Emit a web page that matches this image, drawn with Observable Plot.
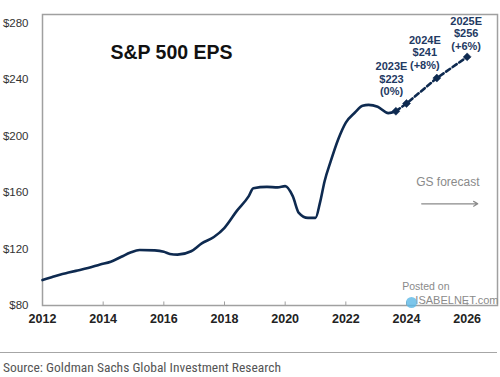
<!DOCTYPE html>
<html>
<head>
<meta charset="utf-8">
<script src="https://cdn.jsdelivr.net/npm/d3@7"></script>
<script src="https://cdn.jsdelivr.net/npm/@observablehq/plot@0.6"></script>
<style>
  html, body { margin: 0; padding: 0; background: #fff; }
  #wrap { width: 500px; height: 377px; position: relative; overflow: hidden; font-family: "Liberation Sans", Arial, sans-serif; }
  #footer { position: absolute; left: 0; top: 352px; width: 497px; border-top: 1.5px solid #a6a6a6; }
  #source { position: absolute; left: 3px; top: 359px; font-family: "Liberation Sans Narrow", "Roboto Condensed", "DejaVu Sans Condensed", sans-serif; font-size: 13.5px; font-weight: normal; color: #555; white-space: nowrap; }
</style>
</head>
<body>
<div id="wrap">
  <div id="chart"></div>
  <div id="footer"></div>
  <div id="source">Source: Goldman Sachs Global Investment Research</div>
</div>
<script>
const actualYears = [2012.0, 2012.3, 2012.6, 2012.8, 2013.1, 2013.5, 2013.9, 2014.25, 2014.6, 2014.9, 2015.2, 2015.7, 2016.0, 2016.2, 2016.45, 2016.9, 2017.25, 2017.65, 2018.0, 2018.4, 2018.8, 2018.95, 2019.4, 2019.75, 2020.0, 2020.25, 2020.45, 2020.75, 2021.0, 2021.15, 2021.3, 2021.5, 2021.75, 2022.0, 2022.3, 2022.55, 2022.75, 2023.05, 2023.4, 2023.65];
const actualEps   = [98, 100, 102, 103, 104.5, 106.5, 109, 111, 114.5, 117.5, 119.3, 119, 118, 116.5, 116, 118.4, 124, 128.5, 135, 146.8, 157.4, 163, 164, 163.6, 164.5, 157.4, 145.6, 142, 142, 153, 168, 182, 197.7, 209.5, 216.6, 221.4, 222, 220.7, 216.2, 217.5];

// GS forecast
const forecastYears = [2023.65, 2024, 2025, 2026];
const forecastEps   = [217.5, 223, 241, 256];
const forecastLabels = ["", "2023E\n$223\n(0%)", "2024E\n$241\n(+8%)", "2025E\n$256\n(+6%)"];

// Axis ticks
const xTicks = [2012, 2014, 2016, 2018, 2020, 2022, 2024, 2026];
const yTicks = [80, 120, 160, 200, 240, 280];

const actual = actualYears.map((x, i) => ({x, y: actualEps[i]}));
const forecast = forecastYears.map((x, i) => ({x, y: forecastEps[i], label: forecastLabels[i]}));

const navy = "#0e2a50";
const labelNavy = "#1f3a63";

const chart = Plot.plot({
  width: 500,
  height: 340,
  marginTop: 14,
  marginBottom: 35,
  marginLeft: 42,
  marginRight: 3,
  style: {fontFamily: "'Liberation Sans', Arial, sans-serif", background: "#fff"},
  x: {domain: [2012, 2027]},
  y: {domain: [80, 286]},
  marks: [
    Plot.frame({stroke: "#a0a0a0", strokeWidth: 1.5}),
    Plot.axisY(yTicks, {tickSize: 0, tickPadding: 14, tickFormat: d => "$" + d, fontSize: 11.5, fill: "#333", label: null}),
    Plot.axisX(xTicks, {tickSize: 0, tickPadding: 9, tickFormat: d => String(d), fontSize: 12.5, fontWeight: "bold", fill: "#222", label: null}),
    Plot.ruleX(xTicks.filter(d => d > 2012), {x: d => d, y1: 80, y2: 82.5, stroke: "#a0a0a0", strokeWidth: 1}),
    Plot.line(actual, {x: "x", y: "y", stroke: navy, strokeWidth: 2.6, curve: "monotone-x"}),
    Plot.line(forecast, {x: "x", y: "y", stroke: navy, strokeWidth: 2.6, strokeDasharray: "5,3"}),
    Plot.dot(forecast, {x: "x", y: "y", symbol: "diamond2", r: 3.6, fill: navy, stroke: navy, strokeWidth: 0.5}),
    Plot.text(forecast.slice(1, 2), {x: "x", y: "y", text: "label", lineAnchor: "bottom", dy: -8, dx: -15, fontSize: 11, fontWeight: "bold", fill: labelNavy, lineHeight: 1.15}),
    Plot.text(forecast.slice(2, 3), {x: "x", y: "y", text: "label", lineAnchor: "bottom", dy: -9, dx: -12, fontSize: 11, fontWeight: "bold", fill: labelNavy, lineHeight: 1.15}),
    Plot.text(forecast.slice(3, 4), {x: "x", y: "y", text: "label", lineAnchor: "bottom", dy: -7, dx: -1, fontSize: 11, fontWeight: "bold", fill: labelNavy, lineHeight: 1.15}),
    Plot.text(["S&P 500 EPS"], {frameAnchor: "top-left", dx: 129, dy: 38, textAnchor: "middle", lineAnchor: "middle", fontSize: 19.5, fontWeight: "bold", fill: "#111"}),
    Plot.text(["GS forecast"], {frameAnchor: "top-right", dx: -18, dy: 168, textAnchor: "end", lineAnchor: "middle", fontSize: 12, fill: "#8a8a8a"}),
    Plot.arrow([0], {x1: 2024.5, x2: 2026.35, y1: 152, y2: 152, stroke: "#8a8a8a", strokeWidth: 1.2, headLength: 6}),
    Plot.text(["Posted on"], {frameAnchor: "bottom-right", dx: -48, dy: -19, textAnchor: "end", lineAnchor: "middle", fontSize: 10.5, fill: "#8a8a8a"}),
    Plot.text(["ISABELNET.com"], {frameAnchor: "bottom-right", dx: 1, dy: -5, textAnchor: "end", lineAnchor: "middle", fontSize: 11, fill: "#8a8a8a"}),
    Plot.dot([0], {frameAnchor: "bottom-right", dx: -86, dy: -3, r: 5.5, fill: "#5bb8e6", fillOpacity: 0.8})
  ]
});
document.getElementById("chart").appendChild(chart);
</script>
</body>
</html>
